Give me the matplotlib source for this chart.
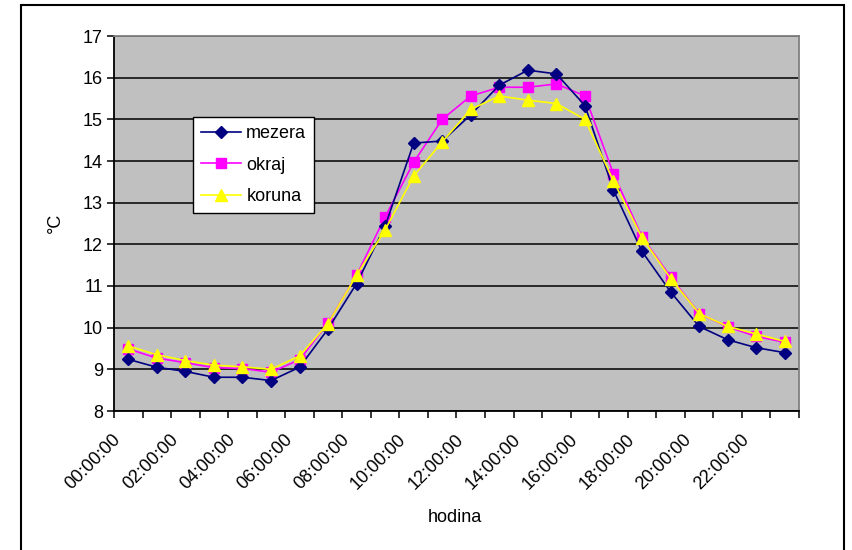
import matplotlib
matplotlib.use("Agg")
import matplotlib.pyplot as plt
import matplotlib.transforms as mtransforms
from matplotlib.patches import Rectangle
import numpy as np

plt.rcParams['font.family'] = ['Liberation Sans', 'DejaVu Sans']

categories = ["%02d:00:00" % h for h in range(24)]
mezera = [9.24, 9.05, 8.95, 8.81, 8.81, 8.73, 9.05, 9.97, 11.06, 12.44, 14.43, 14.48,
          15.11, 15.82, 16.18, 16.09, 15.33, 13.30, 11.83, 10.86, 10.03, 9.71, 9.52, 9.40]
okraj = [9.49, 9.27, 9.16, 9.04, 9.02, 8.93, 9.23, 10.11, 11.26, 12.66, 13.97, 15.00,
         15.56, 15.77, 15.77, 15.85, 15.56, 13.69, 12.18, 11.22, 10.34, 10.02, 9.79, 9.65]
koruna = [9.56, 9.35, 9.21, 9.10, 9.06, 9.00, 9.32, 10.10, 11.26, 12.35, 13.64, 14.46,
          15.24, 15.56, 15.46, 15.38, 15.00, 13.52, 12.16, 11.18, 10.34, 10.03, 9.85, 9.67]
series_names = ["mezera", "okraj", "koruna"]
y_ticks = [8, 9, 10, 11, 12, 13, 14, 15, 16, 17]

FS = 13
W, H = 853, 550
fig = plt.figure(figsize=(W / 100, H / 100), dpi=100)
ax = fig.add_axes([114 / W, 1 - 411 / H, (799 - 114) / W, (411 - 36) / H])
ax.set_facecolor('#C0C0C0')

x = np.arange(len(categories))
ax.plot(x, mezera, color='#000080', marker='D', markersize=6.3, lw=1.2,
        label=series_names[0], zorder=5)
ax.plot(x, okraj, color='#FF00FF', marker='s', markersize=6.8, lw=1.2,
        label=series_names[1], zorder=4)
ax.plot(x, koruna, color='#FFFF00', marker='^', markersize=8.5, lw=1.2,
        label=series_names[2], zorder=6)

ax.set_ylim(8, 17)
ax.set_yticks(y_ticks)
ax.set_yticklabels([str(v) for v in y_ticks], fontsize=FS)
ax.yaxis.grid(True, color='black', lw=1.1)
ax.set_axisbelow(True)

ax.set_xlim(-0.5, len(categories) - 0.5)
ax.set_xticks(np.arange(-0.5, len(categories), 1.0))
ax.set_xticklabels([])
lab_pos = x[::2]
ax.set_xticks(lab_pos, minor=True)
ax.set_xticklabels([categories[i] for i in lab_pos], minor=True, fontsize=FS,
                   rotation=45, ha='right', va='center', rotation_mode='anchor')
ax.tick_params(axis='x', which='minor', length=0, pad=0)
ax.tick_params(axis='both', which='major', length=5, width=1.1, direction='out',
               color='black', pad=3)
offset = mtransforms.ScaledTranslation(-10 / 100, -26 / 100, fig.dpi_scale_trans)
for lbl in ax.xaxis.get_minorticklabels():
    lbl.set_transform(lbl.get_transform() + offset)

for s in ['left', 'bottom']:
    ax.spines[s].set_color('black')
    ax.spines[s].set_linewidth(1.3)
for s in ['top', 'right']:
    ax.spines[s].set_color('#808080')
    ax.spines[s].set_linewidth(1.3)

fig.text(455 / W, 1 - 517 / H, 'hodina', fontsize=FS, ha='center', va='center')
fig.text(55 / W, 1 - 223 / H, '°C', fontsize=FS, ha='center', va='center', rotation=90)

leg = ax.legend(loc='upper left', bbox_to_anchor=((193 - 114) / (799 - 114), (411 - 117) / (411 - 36)),
                frameon=True, fancybox=False, fontsize=FS, labelspacing=0.8,
                handlelength=2.2, borderpad=0.45, handletextpad=0.3, borderaxespad=0)
leg.get_frame().set_edgecolor('black')
leg.get_frame().set_linewidth(1.0)
leg.get_frame().set_facecolor('white')
leg.get_frame().set_alpha(1)

border = Rectangle((21 / W, -0.05), (844 - 21) / W, 1 - 5 / H + 0.05, transform=fig.transFigure,
                   fill=False, edgecolor='black', lw=1.5)
fig.patches.append(border)

fig.savefig('out.png', dpi=100)
